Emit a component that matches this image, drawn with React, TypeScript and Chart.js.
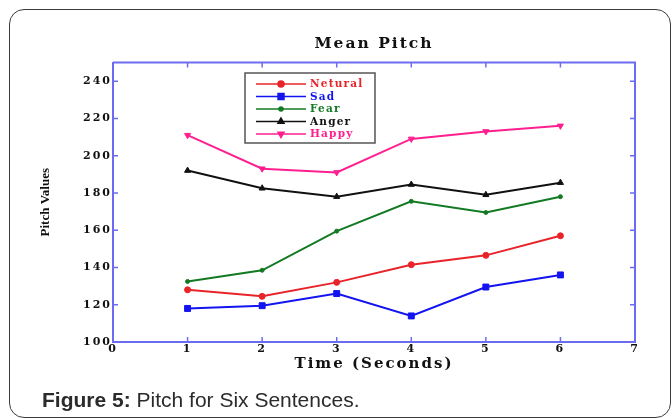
import React, { useEffect, useRef } from "react";
import { Chart, registerables } from "chart.js";
import { drawPoint } from "chart.js/helpers";

Chart.register(...registerables);

const TIMES = [1, 2, 3, 4, 5, 6];
const SERIES_LABELS = ["Netural", "Sad", "Fear", "Anger", "Happy"];
const NETURAL = [128, 124.5, 132, 141.5, 146.5, 157];
const SAD = [118, 119.5, 126, 114, 129.5, 136];
const FEAR = [132.5, 138.5, 159.5, 175.5, 169.5, 178];
const ANGER = [192, 182.5, 178, 184.5, 179, 185.5];
const HAPPY = [211, 193, 191, 209, 213, 216];
const X_TICKS = [0, 1, 2, 3, 4, 5, 6, 7];
const Y_TICKS = [100, 120, 140, 160, 180, 200, 220, 240];

const TITLE = "Mean Pitch";
const X_TITLE = "Time (Seconds)";
const Y_TITLE = "Pitch Values";

const AXIS = "#6c6cf2";
const COLORS = ["#e8242a", "#1414f0", "#137a23", "#111111", "#ff1f8f"];
const STYLES = [
  { pointStyle: "circle", rotation: 0, radius: 3 },
  { pointStyle: "rect", rotation: 0, radius: 4.2 },
  { pointStyle: "circle", rotation: 0, radius: 2 },
  { pointStyle: "triangle", rotation: 0, radius: 3.5 },
  { pointStyle: "triangle", rotation: 180, radius: 3.5 },
];

const SERIF = "'DejaVu Serif', serif";

const framePlugin = {
  id: "frame",
  beforeDraw(chart: any) {
    chart.ctx.letterSpacing = "2px";
  },
  beforeDatasetsDraw(chart: any) {
    const { ctx, chartArea, scales } = chart;
    const { left, right, top, bottom } = chartArea;
    ctx.letterSpacing = "0px";
    ctx.save();
    ctx.strokeStyle = AXIS;
    ctx.lineWidth = 2;
    ctx.beginPath();
    ctx.moveTo(left, top);
    ctx.lineTo(right, top);
    ctx.lineTo(right, bottom);
    ctx.stroke();
    ctx.lineWidth = 1.5;
    const tl = 5;
    ctx.beginPath();
    X_TICKS.forEach((v) => {
      if (v === X_TICKS[0] || v === X_TICKS[X_TICKS.length - 1]) return;
      const px = scales.x.getPixelForValue(v);
      ctx.moveTo(px, bottom);
      ctx.lineTo(px, bottom - tl);
      ctx.moveTo(px, top);
      ctx.lineTo(px, top + tl);
    });
    Y_TICKS.forEach((v) => {
      if (v === Y_TICKS[0]) return;
      const py = scales.y.getPixelForValue(v);
      ctx.moveTo(left, py);
      ctx.lineTo(left + tl, py);
      ctx.moveTo(right, py);
      ctx.lineTo(right - tl, py);
    });
    ctx.stroke();
    ctx.restore();
  },
  afterDraw(chart: any) {
    const { ctx, chartArea } = chart;
    ctx.save();
    ctx.letterSpacing = "0px";
    // y axis title
    ctx.save();
    ctx.translate(46, (chartArea.top + chartArea.bottom) / 2);
    ctx.rotate(-Math.PI / 2);
    ctx.font = "bold 13px 'Liberation Serif', serif";
    ctx.fillStyle = "#111111";
    ctx.textAlign = "center";
    ctx.textBaseline = "middle";
    ctx.fillText(Y_TITLE, 0, 0);
    ctx.restore();
    // legend box
    const bx = 245, by = 73, bw = 130, bh = 70;
    ctx.fillStyle = "#ffffff";
    ctx.fillRect(bx, by, bw, bh);
    ctx.strokeStyle = "#555555";
    ctx.lineWidth = 1.5;
    ctx.strokeRect(bx, by, bw, bh);
    chart.data.datasets.forEach((ds: any, i: number) => {
      const yy = 84 + i * 12.5;
      const c = COLORS[i];
      ctx.strokeStyle = c;
      ctx.fillStyle = c;
      ctx.lineWidth = 1.5;
      ctx.beginPath();
      ctx.moveTo(256, yy);
      ctx.lineTo(306, yy);
      ctx.stroke();
      const st = STYLES[i];
      drawPoint(ctx, { pointStyle: st.pointStyle, rotation: st.rotation, radius: st.radius, borderWidth: 1 }, 281, yy);
      ctx.letterSpacing = "1.2px";
      ctx.font = "bold 10.5px " + SERIF;
      ctx.textAlign = "left";
      ctx.textBaseline = "middle";
      ctx.fillStyle = c;
      ctx.fillText(ds.label, 310, yy + 0.5);
      ctx.letterSpacing = "0px";
    });
    ctx.restore();
  },
};

export default function App() {
  const ref = useRef<HTMLCanvasElement | null>(null);

  useEffect(() => {
    if (!ref.current) return;
    const series = [NETURAL, SAD, FEAR, ANGER, HAPPY];
    const chart = new Chart(ref.current, {
      type: "line",
      data: {
        datasets: series.map((vals, i) => ({
          label: SERIES_LABELS[i],
          data: TIMES.map((t, j) => ({ x: t, y: vals[j] })),
          borderColor: COLORS[i],
          backgroundColor: COLORS[i],
          borderWidth: 2,
          pointStyle: STYLES[i].pointStyle as any,
          rotation: STYLES[i].rotation,
          pointRadius: STYLES[i].radius,
          pointBorderWidth: 1,
          tension: 0,
          fill: false,
        })),
      },
      options: {
        animation: false,
        responsive: false,
        maintainAspectRatio: false,
        layout: { padding: { top: 0, left: 0, right: 37, bottom: 44 } },
        plugins: {
          legend: { display: false },
          tooltip: { enabled: false },
          title: {
            display: true,
            text: TITLE,
            fullSize: false,
            color: "#111111",
            font: { family: SERIF, weight: "bold", size: 15.5, lineHeight: 1.2 },
            padding: { top: 35, bottom: 8.9 },
          },
        },
        scales: {
          x: {
            type: "linear",
            min: 0,
            max: 7,
            afterBuildTicks: (s: any) => {
              s.ticks = X_TICKS.map((v) => ({ value: v }));
            },
            afterFit: (s: any) => {
              s.height = 32;
            },
            grid: { display: false, drawTicks: false },
            border: { display: true, color: AXIS, width: 2 },
            ticks: {
              color: "#111111",
              padding: 1,
              maxRotation: 0,
              autoSkip: false,
              font: { family: SERIF, weight: "bold", size: 11 },
            },
            title: {
              display: true,
              text: X_TITLE,
              color: "#111111",
              font: { family: SERIF, weight: "bold", size: 15, lineHeight: 1.2 },
              padding: { top: 0, bottom: 1 },
            },
          },
          y: {
            type: "linear",
            min: 100,
            max: 250,
            afterBuildTicks: (s: any) => {
              s.ticks = Y_TICKS.map((v) => ({ value: v }));
            },
            afterFit: (s: any) => {
              s.width = 113;
            },
            grid: { display: false, drawTicks: false },
            border: { display: true, color: AXIS, width: 2 },
            ticks: {
              color: "#111111",
              padding: 1,
              autoSkip: false,
              font: { family: SERIF, weight: "bold", size: 11 },
            },
            title: { display: false },
          },
        },
      },
      plugins: [framePlugin],
    } as any);
    return () => chart.destroy();
  }, []);

  return (
    <div
      style={{
        position: "absolute",
        left: 0,
        top: 0,
        width: 672,
        height: 418,
        background: "#ffffff",
        overflow: "hidden",
      }}
    >
      <div
        style={{
          position: "absolute",
          left: 9,
          top: 9,
          width: 662,
          height: 409,
          border: "1.5px solid #3a3a3a",
          borderRadius: 15,
          boxSizing: "border-box",
        }}
      />
      <canvas
        ref={ref}
        width={672}
        height={418}
        style={{ position: "absolute", left: 0, top: 0, display: "block" }}
      />
      <div
        style={{
          position: "absolute",
          left: 42,
          top: 388,
          fontFamily: "'Liberation Sans', Arial, sans-serif",
          fontSize: 21,
          lineHeight: "24px",
          color: "#2b2b2b",
          whiteSpace: "nowrap",
        }}
      >
        <b>Figure 5:</b> Pitch for Six Sentences.
      </div>
    </div>
  );
}
